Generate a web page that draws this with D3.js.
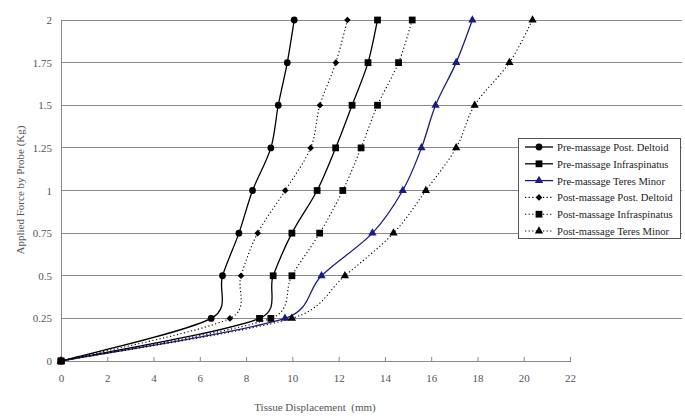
<!DOCTYPE html>
<html>
<head>
<meta charset="utf-8">
<script src="https://cdn.jsdelivr.net/npm/d3@7"></script>
<style>
  body { margin: 0; background: #fff; }
  svg text { font-family: "Liberation Serif", "DejaVu Serif", serif; }
</style>
</head>
<body>
<div id="chart"></div>
<script>
// Applied force levels (Kg) - shared by every series
var force = [0, 0.25, 0.5, 0.75, 1, 1.25, 1.5, 1.75, 2];

// Tissue displacement (mm) read at each force level
var preDeltoid  = [0, 6.49, 6.98, 7.69, 8.28, 9.07, 9.39, 9.78, 10.08];
var preInfra    = [0, 8.58, 9.17, 9.98, 11.07, 11.87, 12.58, 13.27, 13.68];
var preTeres    = [0, 9.68, 11.26, 13.46, 14.77, 15.58, 16.19, 17.08, 17.78];
var postDeltoid = [0, 7.30, 7.78, 8.50, 9.69, 10.79, 11.19, 11.88, 12.38];
var postInfra   = [0, 9.07, 9.98, 11.18, 12.18, 12.97, 13.68, 14.59, 15.18];
var postTeres   = [0, 9.98, 12.27, 14.37, 15.77, 17.08, 17.88, 19.38, 20.38];

var xTicks = [0, 2, 4, 6, 8, 10, 12, 14, 16, 18, 20, 22];
var yTicks = [0, 0.25, 0.5, 0.75, 1, 1.25, 1.5, 1.75, 2];

// rotated square for the diamond markers
var diamond = {
  draw: function(ctx, size) {
    var r = Math.sqrt(size / 2);
    ctx.moveTo(0, -r); ctx.lineTo(r, 0); ctx.lineTo(0, r); ctx.lineTo(-r, 0); ctx.closePath();
  }
};

var series = [
  {name: "Pre-massage Post. Deltoid",  values: preDeltoid,  color: "#000", dash: null,  sym: d3.symbolCircle,   size: 36},
  {name: "Pre-massage Infraspinatus",  values: preInfra,    color: "#000", dash: null,  sym: d3.symbolSquare,   size: 46},
  {name: "Pre-massage Teres Minor",    values: preTeres,    color: "#1c1c80", dash: null, sym: d3.symbolTriangle, size: 30},
  {name: "Post-massage Post. Deltoid", values: postDeltoid, color: "#000", dash: "1.2,2.4", sym: diamond, size: 22},
  {name: "Post-massage Infraspinatus", values: postInfra,   color: "#000", dash: "1.2,2.4", sym: d3.symbolSquare,  size: 46},
  {name: "Post-massage Teres Minor",   values: postTeres,   color: "#000", dash: "1.2,2.4", sym: d3.symbolTriangle, size: 30}
];

// chart box
var W = 685, H = 420;
var plotLeft = 61, plotTop = 20, plotBottom = 361, axisRight = 570, gridRight = 682;

var svg = d3.select("#chart").append("svg")
  .attr("width", W)
  .attr("height", H);

var xScale = d3.scaleLinear().domain([0, 22]).range([plotLeft, axisRight]);
var yScale = d3.scaleLinear().domain([0, 2]).range([plotBottom, plotTop]);

// horizontal gridlines
svg.append("g").selectAll("line")
  .data(yTicks.filter(function(d) { return d > 0; }))
  .enter().append("line")
  .attr("x1", plotLeft).attr("x2", gridRight)
  .attr("y1", function(d) { return yScale(d); })
  .attr("y2", function(d) { return yScale(d); })
  .attr("stroke", "#8a8a8a")
  .attr("stroke-width", 1)
  .attr("shape-rendering", "crispEdges");

// y axis
var yAxis = d3.axisLeft(yScale).tickValues(yTicks).tickSize(0).tickPadding(9)
  .tickFormat(function(d) { return d3.format("")(d); });
var gy = svg.append("g")
  .attr("transform", "translate(" + plotLeft + ",0)")
  .call(yAxis);
gy.select(".domain").attr("stroke", "#8a8a8a").attr("shape-rendering", "crispEdges");
gy.selectAll("text").attr("fill", "#555").style("font-size", "11px")
  .style("font-family", "'Liberation Serif', serif");

// x axis, ticks point up into the plot
var xAxis = d3.axisBottom(xScale).tickValues(xTicks).tickSizeInner(-4).tickSizeOuter(0).tickPadding(13);
var gx = svg.append("g")
  .attr("transform", "translate(0," + plotBottom + ")")
  .call(xAxis);
gx.select(".domain").attr("stroke", "#8a8a8a").attr("shape-rendering", "crispEdges");
gx.selectAll(".tick line").attr("stroke", "#8a8a8a");
gx.selectAll("text").attr("fill", "#555").style("font-size", "11px")
  .style("font-family", "'Liberation Serif', serif");

// axis titles
svg.append("text")
  .attr("x", 315).attr("y", 411)
  .attr("text-anchor", "middle")
  .attr("fill", "#555")
  .style("font-size", "11px")
  .text("Tissue Displacement\u00a0\u00a0(mm)");

svg.append("text")
  .attr("transform", "translate(24,190) rotate(-90)")
  .attr("text-anchor", "middle")
  .attr("fill", "#555")
  .style("font-size", "11px")
  .text("Applied Force by Probe (Kg)");

function pts(s) {
  return s.values.map(function(v, i) { return [xScale(v), yScale(force[i])]; });
}

// spreadsheet-style smoothed line: catmull-rom handles, clamped to half a segment
function smooth(p) {
  var n = p.length, tan = [];
  for (var i = 0; i < n; i++) {
    var a = p[Math.max(0, i - 1)], b = p[Math.min(n - 1, i + 1)];
    tan.push([(b[0] - a[0]) / 6, (b[1] - a[1]) / 6]);
  }
  function clamp(t, len) {
    var l = Math.hypot(t[0], t[1]), k = l > len ? len / l : 1;
    return [t[0] * k, t[1] * k];
  }
  var path = d3.path();
  path.moveTo(p[0][0], p[0][1]);
  for (var j = 0; j < n - 1; j++) {
    var seg = Math.hypot(p[j + 1][0] - p[j][0], p[j + 1][1] - p[j][1]) * 0.5;
    var t0 = clamp(tan[j], seg), t1 = clamp(tan[j + 1], seg);
    path.bezierCurveTo(p[j][0] + t0[0], p[j][1] + t0[1],
      p[j + 1][0] - t1[0], p[j + 1][1] - t1[1], p[j + 1][0], p[j + 1][1]);
  }
  return path.toString();
}

var plot = svg.append("g");
series.forEach(function(s) {
  plot.append("path")
    .attr("d", smooth(pts(s)))
    .attr("fill", "none")
    .attr("stroke", s.color)
    .attr("stroke-width", s.dash ? 1.1 : 1.3)
    .attr("stroke-dasharray", s.dash);
});

// markers; the infraspinatus squares end up on top at the origin
[0, 2, 3, 5, 1, 4].forEach(function(k) {
  var s = series[k];
  plot.append("g").selectAll("path")
    .data(pts(s))
    .enter().append("path")
    .attr("d", d3.symbol().type(s.sym).size(s.size))
    .attr("transform", function(d) { return "translate(" + d[0] + "," + d[1] + ")"; })
    .attr("fill", s.color);
});

// legend
var legend = svg.append("g").attr("transform", "translate(518,138)");
legend.append("rect")
  .attr("x", 0.5).attr("y", 0.5)
  .attr("width", 162).attr("height", 100)
  .attr("fill", "#fff")
  .attr("stroke", "#555");

var row = legend.selectAll("g.row")
  .data(series)
  .enter().append("g")
  .attr("class", "row")
  .attr("transform", function(d, i) { return "translate(0," + (9 + i * 16.8) + ")"; });

row.append("line")
  .attr("x1", 7).attr("x2", 35)
  .attr("stroke", function(d) { return d.color; })
  .attr("stroke-width", function(d) { return d.dash ? 1.1 : 1.3; })
  .attr("stroke-dasharray", function(d) { return d.dash; });

row.append("path")
  .attr("d", function(d) { return d3.symbol().type(d.sym).size(d.size)(); })
  .attr("transform", "translate(21,0)")
  .attr("fill", function(d) { return d.color; });

row.append("text")
  .attr("x", 39).attr("y", 4)
  .attr("fill", "#222")
  .style("font-size", "10.6px")
  .text(function(d) { return d.name; });
</script>
</body>
</html>
